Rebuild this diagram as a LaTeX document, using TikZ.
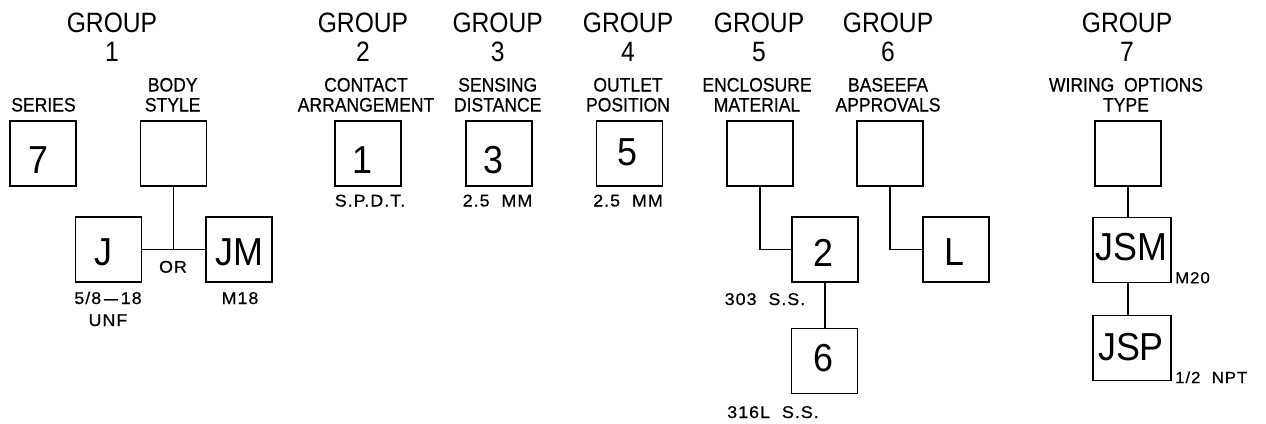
\documentclass[tikz,border=0pt]{standalone}
\usepackage{fontspec}
\setmainfont{Liberation Sans}
\newfontfamily\grpfont{Liberation Sans}[FakeStretch=0.88]
\newfontfamily\labfont{Liberation Sans}[FakeStretch=0.9,FakeBold=0.6]
\newfontfamily\subfont{Liberation Sans}[FakeStretch=1.05,LetterSpace=6,FakeBold=0.6]
\newfontfamily\bigfont{Liberation Sans}[FakeStretch=0.92]
\begin{document}
\begin{tikzpicture}[x=1pt,y=-1pt,
  grp/.style={font=\grpfont\fontsize{28}{29}\selectfont, anchor=base, inner sep=0, align=center},
  ttl/.style={font=\labfont\fontsize{19.5}{20}\selectfont, anchor=base, inner sep=0, align=center},
  sub/.style={font=\subfont\fontsize{17}{22}\selectfont, anchor=base, inner sep=0, align=center},
  big/.style={font=\bigfont\fontsize{39}{39}\selectfont, anchor=base, inner sep=0},
  box/.style={draw, line width=1.8pt, minimum width=66pt, minimum height=65pt, inner sep=0},
  wide/.style={box, minimum width=78pt},
  link/.style={line width=1.8pt}]
\useasboundingbox (0,0) rectangle (1266,423);
% group headers (base = last line)
\node[grp] (g1) at (112,61) {GROUP\\1};
\node[grp] (g2) at (363,61) {GROUP\\2};
\node[grp] (g3) at (497.7,61) {GROUP\\3};
\node[grp] (g4) at (628,61) {GROUP\\4};
\node[grp] (g5) at (759,61) {GROUP\\5};
\node[grp] (g6) at (888,61) {GROUP\\6};
\node[grp] (g7) at (1127,61) {GROUP\\7};
% titles
\node[ttl] (tser) at (43.5,111.5) {SERIES};
\node[ttl] (tbody) at (172.7,111.5) {BODY\\STYLE};
\node[ttl] (tcon) at (366,111.5) {CONTACT\\ARRANGEMENT};
\node[ttl] (tsen) at (497.7,111.5) {SENSING\\DISTANCE};
\node[ttl] (tout) at (628,111.5) {OUTLET\\POSITION};
\node[ttl] (tenc) at (757,111.5) {ENCLOSURE\\MATERIAL};
\node[ttl] (tbas) at (888,111.5) {BASEEFA\\APPROVALS};
\node[ttl] (twir) at (1126,111.5) {WIRING\ \ OPTIONS\\TYPE};
% boxes
\node[box] (s1) at (43,153.5) {};
\node[box] (b1) at (173.5,153.5) {};
\node[box] (j) at (108.5,249.5) {};
\node[box] (jm) at (239,249.5) {};
\node[box] (c2) at (368,153.5) {};
\node[box] (c3) at (499,153.5) {};
\node[box] (c4) at (629.5,153.5) {};
\node[box] (c5) at (760,153.5) {};
\node[box] (m2) at (825,249.5) {};
\node[box] (m6) at (824.5,361) {};
\node[box] (c6) at (890,153.5) {};
\node[box] (l) at (956,249.5) {};
\node[box] (c7) at (1128.3,153.5) {};
\node[wide] (jsm) at (1132,250) {};
\node[wide] (jsp) at (1132,348) {};
% box letters
\node[big] (x7) at (38.7,173) {7};
\node[big] (xj) at (103,265) {J};
\node[big] (xjm) at (239.7,265) {JM};
\node[big] (x1) at (362.5,173) {1};
\node[big] (x3) at (493,173) {3};
\node[big] (x5) at (627.5,165) {5};
\node[big] (x2) at (823.5,266.7) {2};
\node[big] (x6) at (823.5,371) {6};
\node[big] (xl) at (954,265) {L};
\node[big] (xjsm) at (1131.5,260.7) {JSM};
\node[big] (xjsp) at (1131,360) {JSP};
% sub labels
\node[sub] (sj) at (108,326) {5/8\,\scalebox{1.4}[1]{–}\,18\\UNF};
\node[sub] (sjm) at (240,304) {M18};
\node[sub] (sor) at (173,272.7) {OR};
\node[sub] (sspdt) at (370,206.5) {S.P.D.T.};
\node[sub] (s25a) at (497.5,206.5) {2.5\ \ MM};
\node[sub] (s25b) at (628,206.5) {2.5\ \ MM};
\node[sub] (s303) at (765,305) {303\ \ S.S.};
\node[sub] (s316) at (773,418) {316L\ \ S.S.};
\node[sub, anchor=base west, font=\subfont\fontsize{16}{16}\selectfont] (sm20) at (1175,283.3) {M20};
\node[sub, anchor=base west, font=\subfont\fontsize{16}{16}\selectfont] (snpt) at (1175,383) {1/2\ \ NPT};
% connectors
\draw[link] (j.east) -- (jm.west);
\draw[link] (b1.south) -- (b1.south |- j.east);
\draw[link] (c5.south) |- (m2.west);
\draw[link] (m2.south) -- (m2.south |- m6.north);
\draw[link] (c6.south) |- (l.west);
\draw[link] (c7.south) -- (c7.south |- jsm.north);
\draw[link] (c7.south |- jsm.south) -- (c7.south |- jsp.north);
\end{tikzpicture}
\end{document}
